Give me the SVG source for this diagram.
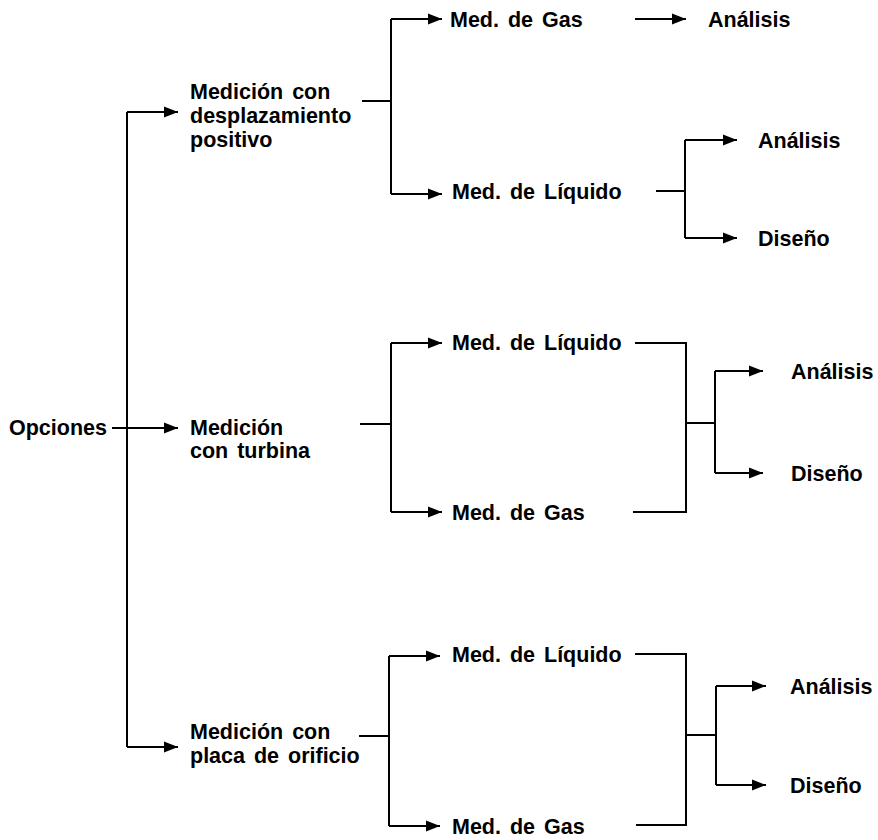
<svg xmlns="http://www.w3.org/2000/svg" width="878" height="840" viewBox="0 0 878 840">
  <style>
    text { font-family: "Liberation Sans", Arial, sans-serif; font-weight: bold; font-size: 21.5px; word-spacing: 3px; fill: #000; }
    .ln { fill: none; stroke: #000; stroke-width: 2; }
    .ar { fill: none; stroke: #000; stroke-width: 2; marker-end: url(#tip); }
  </style>
  <defs>
    <marker id="tip" markerUnits="userSpaceOnUse" markerWidth="15" markerHeight="12" refX="14" refY="6" orient="auto">
      <path d="M0,0.5 L14,6 L0,11.5 Z" fill="#000"/>
    </marker>
  </defs>
  <rect width="878" height="840" fill="#fff"/>

  <g id="connectors">
    <!-- root trunk -->
    <path class="ln" d="M127,112 V747"/>
    <path class="ar" d="M127,112 H178"/>
    <path class="ar" d="M112,428 H178"/>
    <path class="ar" d="M127,747 H178"/>

    <!-- positive displacement branch -->
    <path class="ln" d="M362,101 H391 M391,19 V194"/>
    <path class="ar" d="M391,19 H442"/>
    <path class="ar" d="M391,194 H442"/>
    <path class="ar" d="M635,19 H686"/>
    <path class="ln" d="M656,191 H685 M685,140 V238"/>
    <path class="ar" d="M685,140 H737"/>
    <path class="ar" d="M685,238 H737"/>

    <!-- turbine branch -->
    <path class="ln" d="M360,424 H391 M391,343 V512"/>
    <path class="ar" d="M391,343 H442"/>
    <path class="ar" d="M391,512 H442"/>
    <path class="ln" d="M635,343 H686 V512 H633 M686,423 H715 M715,371 V473"/>
    <path class="ar" d="M715,371 H763"/>
    <path class="ar" d="M715,473 H763"/>

    <!-- orifice plate branch -->
    <path class="ln" d="M359,736 H389 M389,656 V826"/>
    <path class="ar" d="M389,656 H440"/>
    <path class="ar" d="M389,826 H440"/>
    <path class="ln" d="M635,654 H686 V825 H636 M686,735 H716 M716,686 V785"/>
    <path class="ar" d="M716,686 H766"/>
    <path class="ar" d="M716,785 H766"/>
  </g>

  <g id="opciones"><text x="9" y="435">Opciones</text></g>

  <g id="desplazamiento">
    <text x="190" y="99">Medición con</text>
    <text x="190" y="123">desplazamiento</text>
    <text x="190" y="147">positivo</text>
  </g>
  <g id="dp-gas"><text x="450" y="27">Med. de Gas</text></g>
  <g id="dp-gas-analisis"><text x="708" y="27">Análisis</text></g>
  <g id="dp-liquido"><text x="452" y="199">Med. de Líquido</text></g>
  <g id="dp-liq-analisis"><text x="758" y="148">Análisis</text></g>
  <g id="dp-liq-diseno"><text x="758" y="246">Diseño</text></g>

  <g id="turbina">
    <text x="190" y="435">Medición</text>
    <text x="190" y="458">con turbina</text>
  </g>
  <g id="tb-liquido"><text x="452" y="350">Med. de Líquido</text></g>
  <g id="tb-gas"><text x="452" y="520">Med. de Gas</text></g>
  <g id="tb-analisis"><text x="791" y="379">Análisis</text></g>
  <g id="tb-diseno"><text x="791" y="481">Diseño</text></g>

  <g id="orificio">
    <text x="190" y="739">Medición con</text>
    <text x="190" y="763">placa de orificio</text>
  </g>
  <g id="or-liquido"><text x="452" y="662">Med. de Líquido</text></g>
  <g id="or-gas"><text x="452" y="834">Med. de Gas</text></g>
  <g id="or-analisis"><text x="790" y="694">Análisis</text></g>
  <g id="or-diseno"><text x="790" y="793">Diseño</text></g>
</svg>
